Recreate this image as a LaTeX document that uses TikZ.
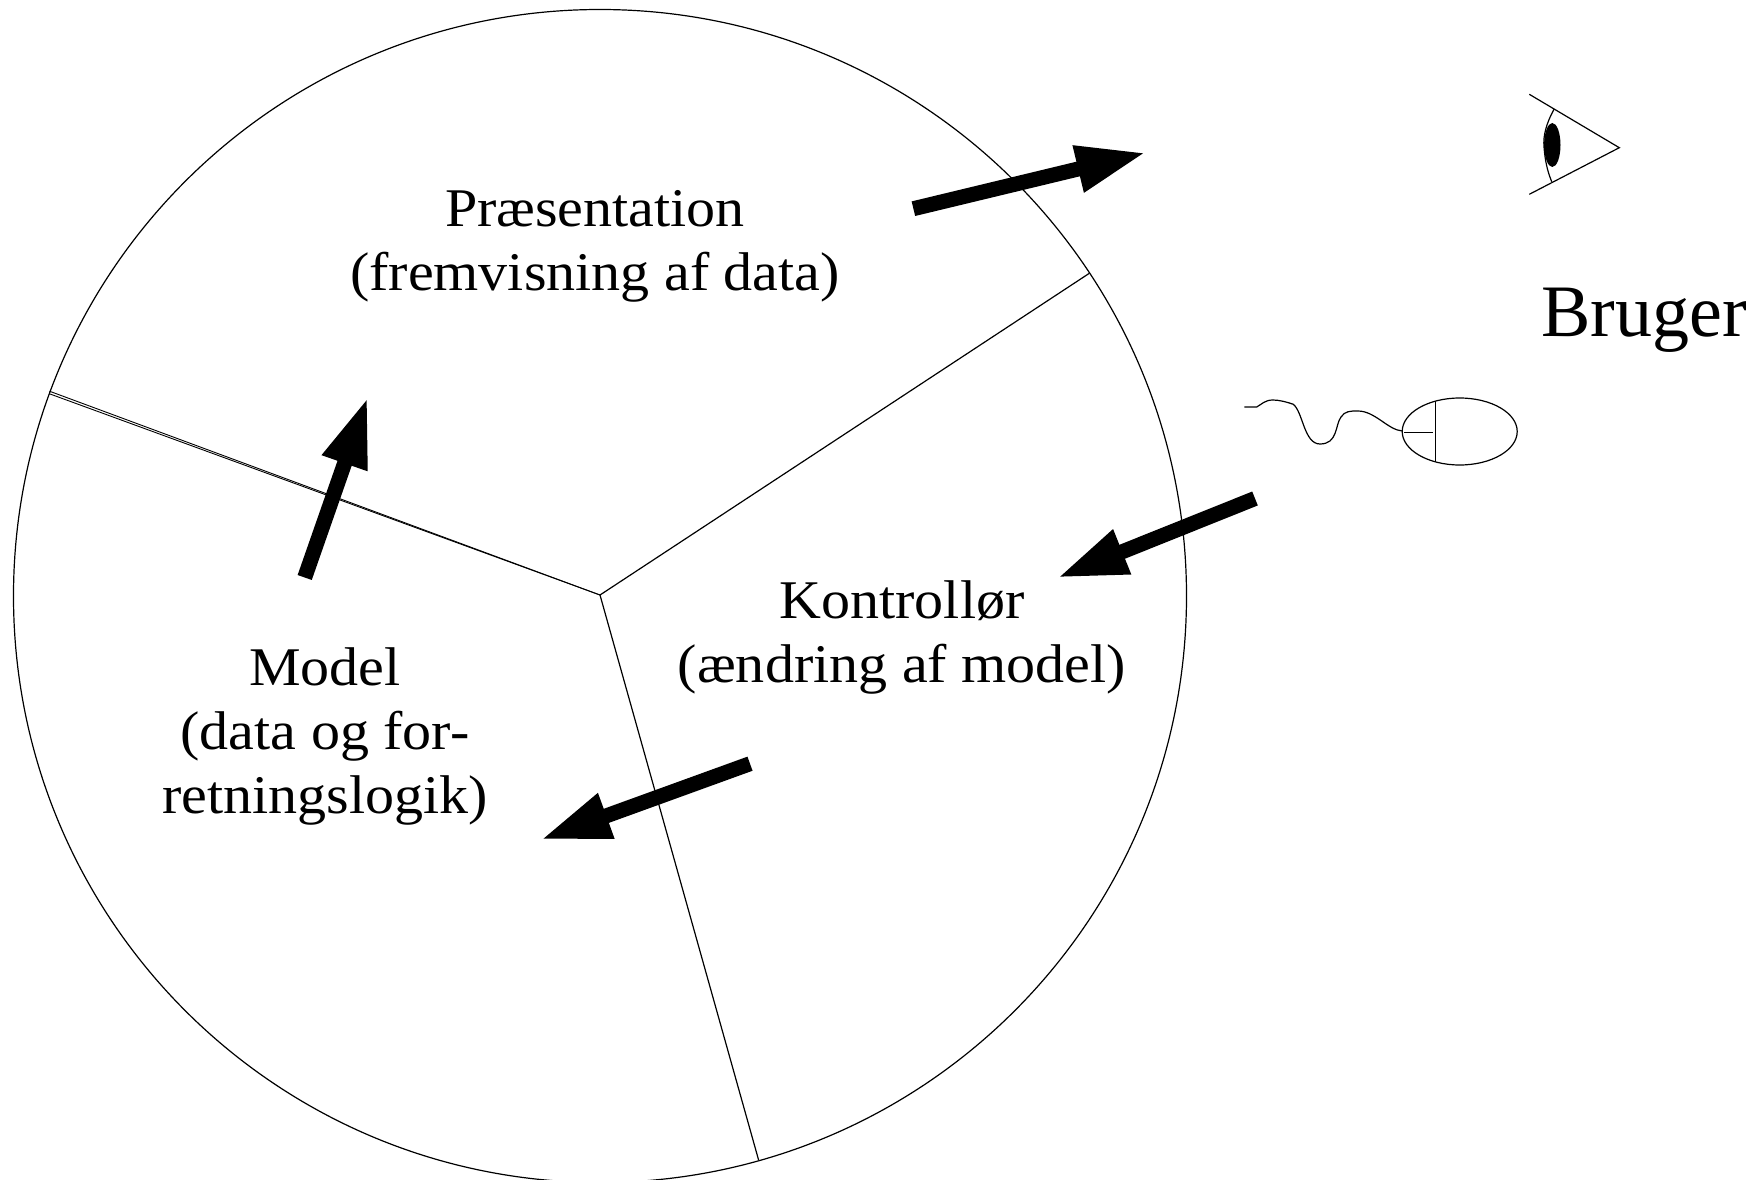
\documentclass[tikz,border=0pt]{standalone}
\usepackage{fontspec}
\setmainfont{Liberation Serif}
\newfontfamily\labelfont[FakeStretch=1.065]{Liberation Serif}
\usetikzlibrary{arrows.meta}
\tikzset{
  thinline/.style={draw=black,line width=1.2pt},
  fatarrow/.style={draw=black,line width=15pt,line cap=butt,shorten >=-3pt,-{Triangle[length=70pt,width=44pt]}},
  partlabel/.style={inner sep=0pt,align=center,text=black,font=\labelfont\fontsize{54.5}{64}\selectfont},
  userlabel/.style={inner sep=0pt,text=black,font=\fontsize{74}{74}\selectfont}
}
\begin{document}
\begin{tikzpicture}[x=1pt,y=-1pt]
\useasboundingbox (0,0) rectangle (1757,1180);
% wheel
\coordinate (hub) at (600,595);
\coordinate (spokeA) at (1089,273.5);
\coordinate (spokeB1) at (49.5,391.2);
\coordinate (spokeB2) at (49.5,393.8);
\coordinate (spokeC) at (758.6,1160);
\draw[thinline] (600,596) circle [radius=586.5];
\draw[thinline] (hub) -- (spokeA);
\draw[thinline,line width=.9pt] (hub) -- (spokeB1);
\draw[thinline,line width=.9pt] (hub) -- (spokeB2);
\draw[thinline] (hub) -- (spokeC);
% labels
\node[partlabel] (praes) at (595,246.5) {Præsentation\\(fremvisning af data)};
\node[partlabel] (kontrol) at (902,637) {Kontrollør\\(ændring af model)};
\node[partlabel] (model) at (325,736) {Model\\(data og for-\\retningslogik)};
\node[userlabel] (bruger) at (1644,320) {Bruger};
% arrows
\coordinate (a1s) at (913.4,208.7); \coordinate (a1e) at (1143.3,153.3);
\coordinate (a2s) at (304.7,577.5); \coordinate (a2e) at (366.7,400);
\coordinate (a3s) at (1255,498.5); \coordinate (a3e) at (1060,576.7);
\coordinate (a4s) at (750,763.7); \coordinate (a4e) at (543.3,838.7);
\draw[fatarrow] (a1s) -- (a1e);
\draw[fatarrow] (a2s) -- (a2e);
\draw[fatarrow] (a3s) -- (a3e);
\draw[fatarrow] (a4s) -- (a4e);
% eye
\coordinate (eyeTop) at (1529.3,94.3);
\coordinate (eyeApex) at (1619.3,147.7);
\coordinate (eyeBot) at (1529.3,194.3);
\draw[thinline,line join=miter] (eyeTop) -- (eyeApex) -- (eyeBot);
\draw[thinline] (1554,109.3) .. controls (1546,124) and (1543,136) .. (1544,147) .. controls (1545,160) and (1547,170) .. (1551.7,181.7);
\fill[black] (1552.3,145) ellipse [x radius=8.2,y radius=22];
% mouse
\coordinate (mouseC) at (1459.7,431.5);
\draw[thinline] (mouseC) ellipse [x radius=57.5,y radius=33.5];
\draw[thinline] (1435.7,400.7) -- (1435.7,461.7);
\draw[draw=black,line width=.9pt] (1404,432) -- (1432.7,432);
\draw[thinline] (1244.3,407) -- (1256.7,407)
  .. controls (1262,404) and (1265,400) .. (1273,400)
  .. controls (1279,400) and (1287,402) .. (1293.3,404.3)
  .. controls (1303,412) and (1304,444) .. (1320,444)
  .. controls (1338,444) and (1335,425) .. (1341,417)
  .. controls (1345,411) and (1350,411) .. (1358,411)
  .. controls (1375,411) and (1388,430) .. (1402.3,431);
\end{tikzpicture}
\end{document}
